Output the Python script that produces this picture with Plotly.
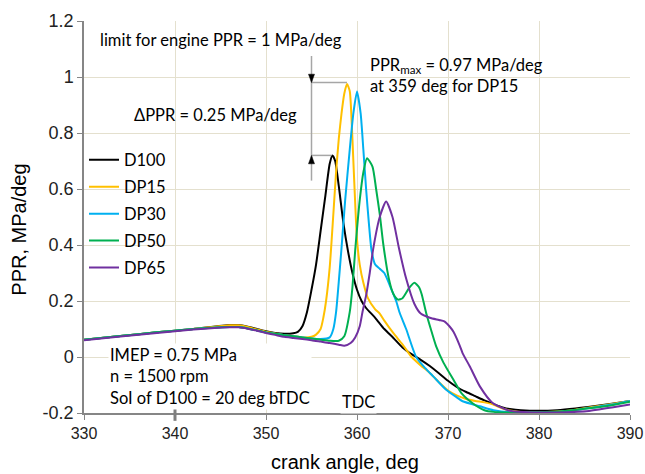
import plotly.graph_objects as go

# ---------------- data ----------------
series_names = ["D100", "DP15", "DP30", "DP50", "DP65"]
series_colors = ["#000000", "#FFC000", "#00B0F0", "#00B050", "#7030A0"]

angle_d100 = [330, 334, 338, 342, 346, 347, 348, 349, 350, 351, 352, 353, 353.5, 354, 354.5, 355, 355.5,
              356, 356.5, 357, 357.3, 357.6, 358, 358.5, 359, 359.5, 360, 360.5, 361, 362, 363, 364, 365,
              366, 367, 368, 369, 370, 371, 372, 373, 374, 375, 376, 377, 378, 380, 382, 384, 386, 388, 390]
ppr_d100 = [0.062, 0.075, 0.088, 0.100, 0.114, 0.114, 0.108, 0.100, 0.092, 0.086, 0.083, 0.085, 0.090, 0.110,
            0.160, 0.240, 0.330, 0.450, 0.570, 0.690, 0.720, 0.700, 0.610, 0.480, 0.380, 0.300, 0.240, 0.200,
            0.175, 0.140, 0.100, 0.068, 0.034, 0.010, -0.010, -0.032, -0.058, -0.085, -0.108, -0.125, -0.140,
            -0.155, -0.168, -0.180, -0.187, -0.190, -0.192, -0.190, -0.184, -0.176, -0.167, -0.157]

angle_dp15 = [330, 334, 338, 342, 346, 347, 348, 349, 350, 351, 352, 353, 354, 355, 355.5, 356, 356.3, 356.6,
              357, 357.4, 357.7, 358, 358.3, 358.6, 358.9, 359.2, 359.4, 359.6, 359.8, 360, 360.3, 360.7,
              361.2, 362, 362.5, 363, 364, 365, 366, 367, 368, 369, 370, 371, 372, 373, 374, 375, 376, 377,
              378, 380, 382, 384, 386, 388, 390]
ppr_dp15 = [0.062, 0.075, 0.088, 0.100, 0.113, 0.113, 0.107, 0.098, 0.090, 0.084, 0.078, 0.074, 0.070, 0.072,
            0.080, 0.100, 0.140, 0.200, 0.320, 0.510, 0.660, 0.780, 0.870, 0.940, 0.975, 0.950, 0.850, 0.700,
            0.550, 0.420, 0.330, 0.265, 0.210, 0.170, 0.155, 0.130, 0.085, 0.045, 0.000, -0.030, -0.057,
            -0.090, -0.120, -0.138, -0.150, -0.157, -0.162, -0.170, -0.184, -0.192, -0.196, -0.198, -0.195,
            -0.188, -0.178, -0.168, -0.157]

angle_dp30 = [330, 334, 338, 342, 346, 347, 348, 349, 350, 351, 352, 353, 354, 355, 356, 357, 357.4, 357.7,
              358, 358.3, 358.7, 359.2, 359.6, 360, 360.4, 360.7, 361, 361.3, 361.6, 362, 362.5, 363, 363.8,
              364.3, 364.7, 365.4, 366.5, 367.5, 368.4, 369.8, 371, 371.6, 373.5, 375, 377, 380, 382, 384,
              386, 388, 390]
ppr_dp30 = [0.062, 0.075, 0.088, 0.100, 0.107, 0.107, 0.102, 0.095, 0.088, 0.083, 0.078, 0.074, 0.070, 0.066,
            0.064, 0.070, 0.100, 0.160, 0.270, 0.390, 0.560, 0.740, 0.870, 0.948, 0.870, 0.740, 0.600, 0.480,
            0.380, 0.330, 0.315, 0.300, 0.240, 0.200, 0.157, 0.100, 0.000, -0.040, -0.070, -0.117, -0.145,
            -0.158, -0.176, -0.190, -0.198, -0.198, -0.196, -0.190, -0.180, -0.170, -0.157]

angle_dp50 = [330, 334, 338, 342, 346, 347, 348, 349, 350, 351, 352, 353, 354, 355, 356, 357, 358, 358.6,
              359.2, 359.5, 359.8, 360.3, 360.7, 361.1, 361.7, 362.1, 362.5, 362.9, 363.5, 364, 364.5, 365,
              365.7, 366.3, 366.8, 367.1, 367.6, 368.2, 368.7, 369.5, 370.6, 371.5, 372.7, 374, 375, 377,
              380, 382, 384, 386, 388, 390]
ppr_dp50 = [0.062, 0.075, 0.088, 0.100, 0.107, 0.107, 0.102, 0.095, 0.088, 0.083, 0.078, 0.074, 0.070, 0.066,
            0.062, 0.058, 0.058, 0.074, 0.160, 0.250, 0.380, 0.560, 0.660, 0.710, 0.680, 0.600, 0.510, 0.400,
            0.280, 0.225, 0.205, 0.210, 0.245, 0.265, 0.250, 0.225, 0.157, 0.090, 0.038, -0.020, -0.081,
            -0.130, -0.165, -0.190, -0.196, -0.198, -0.197, -0.195, -0.189, -0.181, -0.172, -0.160]

angle_dp65 = [330, 334, 338, 342, 346, 347, 348, 349, 350, 351, 352, 353, 354, 355, 356, 357, 358, 358.6,
              359.3, 359.8, 360.3, 360.6, 361, 361.4, 361.8, 362.5, 363.2, 363.9, 364.6, 365.4, 366.3, 367,
              368, 369, 369.6, 370.2, 370.6, 371.3, 371.6, 372.4, 373.5, 374.9, 376.8, 379.3, 382, 385.2,
              388, 390]
ppr_dp65 = [0.060, 0.073, 0.086, 0.098, 0.106, 0.106, 0.101, 0.094, 0.086, 0.079, 0.072, 0.068, 0.064, 0.060,
            0.055, 0.050, 0.044, 0.040, 0.050, 0.070, 0.110, 0.160, 0.220, 0.300, 0.390, 0.500, 0.555, 0.500,
            0.390, 0.280, 0.190, 0.155, 0.140, 0.132, 0.127, 0.108, 0.090, 0.040, 0.014, -0.034, -0.105,
            -0.164, -0.192, -0.198, -0.198, -0.194, -0.180, -0.170]

x_ticks = [330, 340, 350, 360, 370, 380, 390]
y_ticks = [-0.2, 0, 0.2, 0.4, 0.6, 0.8, 1.0, 1.2]
y_tick_labels = ["-0.2", "0", "0.2", "0.4", "0.6", "0.8", "1", "1.2"]
x_title = "crank angle, deg"
y_title = "PPR, MPa/deg"

# annotation values
ppr_limit_text = "limit for engine PPR = 1 MPa/deg"
ppr_max_dp15 = 0.98
ppr_max_d100 = 0.72
angle_peak_dp15 = 358.9
angle_peak_d100 = 357.2
angle_dim_line = 355.0
soi_angle = 340

# ---------------- figure ----------------
ANN_FONT = "Lato"
AX_FONT = "Liberation Sans"

fig = go.Figure()
all_x = [angle_d100, angle_dp15, angle_dp30, angle_dp50, angle_dp65]
all_y = [ppr_d100, ppr_dp15, ppr_dp30, ppr_dp50, ppr_dp65]
for name, col, xs, ys in zip(series_names, series_colors, all_x, all_y):
    fig.add_trace(go.Scatter(
        x=xs, y=ys, name=name, mode="lines", legendgroup=name,
        line=dict(color=col, width=2, shape="spline", smoothing=0.6),
    ))

grid_col = "#E4E0CE"
axis_col = "#868686"

fig.update_layout(
    width=645, height=474,
    margin=dict(l=84, r=15, t=21, b=61),
    paper_bgcolor="white", plot_bgcolor="white",
    showlegend=True,
    legend=dict(x=0.0, y=0.69, xanchor="left", yanchor="top",
                font=dict(family=ANN_FONT, size=16.5, color="#000000"),
                bgcolor="rgba(0,0,0,0)", tracegroupgap=2.5, traceorder="grouped",
                itemwidth=30),
    xaxis=dict(range=[330, 390], tickvals=x_ticks, showgrid=True, gridcolor=grid_col, gridwidth=1,
               showline=True, linecolor=axis_col, linewidth=1.5, ticks="outside", ticklen=5,
               tickcolor=axis_col, zeroline=False, automargin=False,
               tickfont=dict(family=AX_FONT, size=16, color="#222222")),
    yaxis=dict(range=[-0.2, 1.2], tickvals=y_ticks, ticktext=y_tick_labels, showgrid=True,
               gridcolor=grid_col, gridwidth=1, showline=True, linecolor=axis_col, linewidth=1.5,
               ticks="outside", ticklen=5, tickcolor=axis_col, zeroline=False, automargin=False,
               tickfont=dict(family=AX_FONT, size=18, color="#222222")),
)

# axis titles (placed like the reference, slightly off-centre)
title_font = dict(family=AX_FONT, size=20, color="#000000")
fig.add_annotation(x=(345 - 84) / 546, y=-(462 - 413.3) / 392, xref="paper", yref="paper", text=x_title,
                   showarrow=False, xanchor="center", yanchor="middle", font=title_font)
fig.add_annotation(x=-(84 - 19) / 546, y=(413.3 - 230) / 392, xref="paper", yref="paper", text=y_title,
                   showarrow=False, xanchor="center", yanchor="middle", textangle=-90, font=title_font)

arrow_col = "#7F7F7F"
dim_col = "#A6A6A6"
# dimension line shapes (grey)
fig.add_shape(type="line", xref="x", yref="y", x0=angle_dim_line, x1=angle_peak_dp15,
              y0=ppr_max_dp15, y1=ppr_max_dp15, line=dict(color=dim_col, width=1.5))
fig.add_shape(type="line", xref="x", yref="y", x0=angle_dim_line, x1=angle_peak_d100,
              y0=ppr_max_d100, y1=ppr_max_d100, line=dict(color=dim_col, width=1.5))
fig.add_shape(type="line", xref="x", yref="y", x0=angle_dim_line, x1=angle_dim_line,
              y0=0.63, y1=1.075, line=dict(color=dim_col, width=1.5))
# arrow heads (small filled triangles)
hw, hh = 0.33, 0.03
fig.add_shape(type="path", xref="x", yref="y",
              path=f"M {angle_dim_line},{ppr_max_dp15} L {angle_dim_line - hw},{ppr_max_dp15 + hh} "
                   f"L {angle_dim_line + hw},{ppr_max_dp15 + hh} Z",
              fillcolor="#000000", line=dict(color="#000000", width=0.5))
fig.add_shape(type="path", xref="x", yref="y",
              path=f"M {angle_dim_line},{ppr_max_d100} L {angle_dim_line - hw},{ppr_max_d100 - hh} "
                   f"L {angle_dim_line + hw},{ppr_max_d100 - hh} Z",
              fillcolor="#000000", line=dict(color="#000000", width=0.5))
# SoI marker
fig.add_shape(type="line", xref="x", yref="paper", x0=soi_angle, x1=soi_angle, y0=-0.02, y1=0.03,
              line=dict(color=arrow_col, width=3))

fnt = dict(family=ANN_FONT, size=16.5, color="#000000")
fig.add_annotation(x=331.5, y=1.133, xref="x", yref="y", text=ppr_limit_text, showarrow=False,
                   xanchor="left", yanchor="middle", font=fnt)
fig.add_annotation(x=361.2, y=1.005, xref="x", yref="y",
                   text="PPR<sub>max</sub> = 0.97 MPa/deg<br>at 359 deg for DP15", showarrow=False,
                   xanchor="left", yanchor="middle", align="left", font=fnt)
fig.add_annotation(x=353.6, y=0.865, xref="x", yref="y", text="\u0394PPR = 0.25 MPa/deg", showarrow=False,
                   xanchor="right", yanchor="middle", font=fnt)
fig.add_annotation(x=332.6, y=-0.069, xref="x", yref="y",
                   text="IMEP = 0.75 MPa<br>n = 1500 rpm<br>SoI of D100 = 20 deg bTDC", showarrow=False,
                   xanchor="left", yanchor="middle", align="left", font=fnt, bgcolor="white")
fig.add_annotation(x=360.2, y=-0.159, xref="x", yref="y", text="TDC", showarrow=False,
                   xanchor="center", yanchor="middle", font=fnt, bgcolor="white")

fig.write_html("out.html", config={"displayModeBar": False},
               post_script="document.body.style.margin='0px';")
